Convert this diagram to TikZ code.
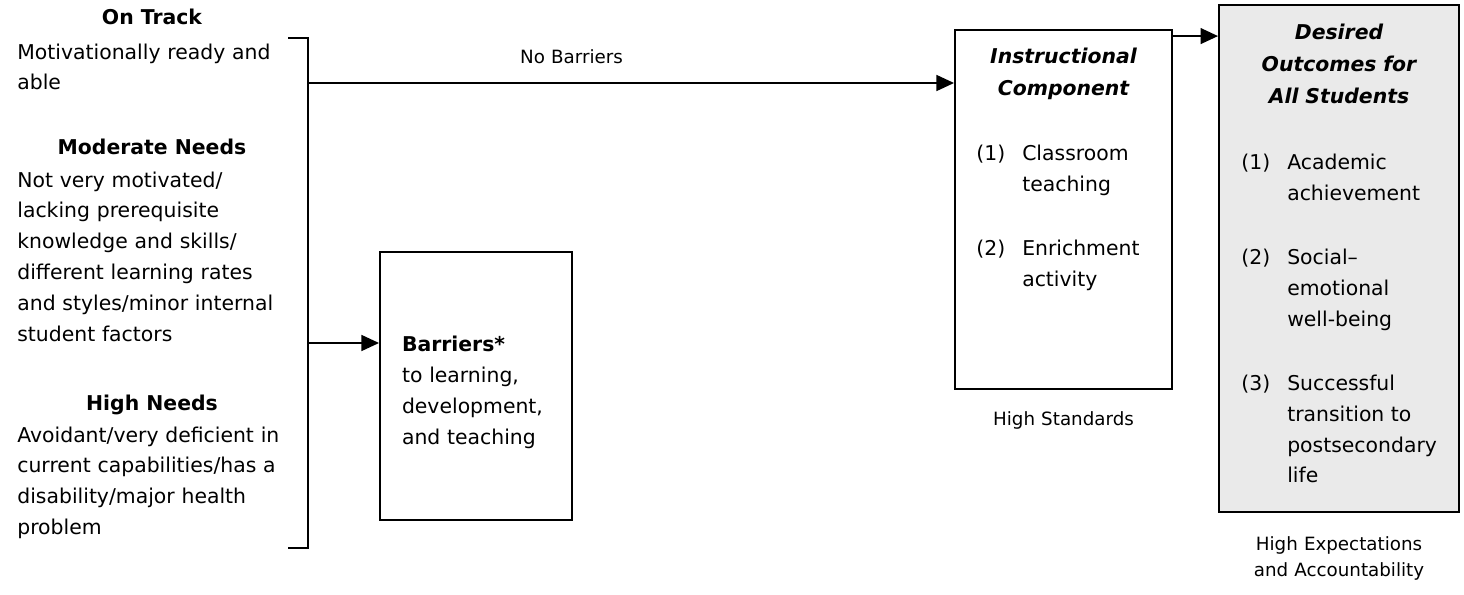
\documentclass[tikz,border=0pt]{standalone}
\usepackage{fontspec}
\setmainfont{DejaVu Sans}[
    ItalicFont={DejaVu Sans Oblique},
    BoldFont={DejaVu Sans Bold},
    BoldItalicFont={DejaVu Sans Bold Oblique}]
\usepackage{tikz}
\usetikzlibrary{
    arrows.meta,
    positioning,
    calc
}
\definecolor{Uline}{RGB}{0, 0, 0}
\definecolor{Ufill}{RGB}{234, 234, 234}
\newcommand{\bodyfont}{\fontsize{11.6}{17.6}\selectfont}
\newcommand{\titlefont}{\fontsize{11.6}{18.1}\selectfont}
\newcommand{\notefont}{\fontsize{10.4}{14.8}\selectfont}
\tikzset{
    ubox/.style={
        rectangle, draw=Uline, line width=1.1pt, fill=white, inner sep=0pt
    },
    ugoal/.style={ubox, fill=Ufill},
    uhead/.style={font=\bodyfont\bfseries, anchor=base, inner sep=0pt},
    utext/.style={
        font=\bodyfont, align=left, text width=6cm, anchor=base west, inner sep=0pt
    },
    utitle/.style={
        font=\titlefont\bfseries\itshape, align=center, text width=4.6cm, inner sep=0pt
    },
    ulist/.style={font=\bodyfont, anchor=base west, inner sep=0pt},
    unote/.style={font=\notefont, align=center, text width=4.8cm, inner sep=0pt},
    uarr/.style={-{Triangle[length=10pt, width=9pt]}, line width=1.1pt, Uline},
    uline/.style={line width=1.1pt, Uline},
}

\begin{document}
\begin{tikzpicture}[x=0.02cm, y=-0.02cm]
    \useasboundingbox (0,0) rectangle (1464,595);

    % ── student groups ───────────────────────────────
    \node [uhead] (trackhd) at (152,25) {On Track};
    \node [utext] (tracktx) at (17,59)
        {Motivationally ready and\\able};

    \node [uhead] (modhd) at (152,154) {Moderate Needs};
    \node [utext] (modtx) at (17,187)
        {Not very motivated/\\lacking prerequisite\\knowledge and skills/\\
         different learning rates\\and styles/minor internal\\student factors};

    \node [uhead] (highhd) at (152,410) {High Needs};
    \node [utext] (hightx) at (17,442)
        {Avoidant/very deficient in\\current capabilities/has a\\
         disability/major health\\problem};

    % ── bracket ──────────────────────────────────────
    \coordinate (brtop) at (288,38);
    \coordinate (brbot) at (288,548);
    \coordinate (brup)  at (308,83);
    \coordinate (brmid) at (308,343);
    \draw [uline] (brtop) -- ++(20,0) |- (brbot);

    % ── barriers ─────────────────────────────────────
    \node [ubox, minimum width=3.84cm, minimum height=5.36cm,
           text width=2.96cm, align=left, font=\bodyfont]
        (barr) at (476,386)
        {\textbf{Barriers*}\rule{0pt}{0.55cm}\\to learning,\\development,\\and teaching};

    % ── instructional component ──────────────────────
    \node [ubox, minimum width=4.34cm, minimum height=7.18cm] (instr) at (1063.5,209.5) {};
    \node [utitle, anchor=base] (instrhd) at ($(instr.north)+(0,34.5)$)
        {Instructional\\Component};
    \node [ulist] (instrls) at ($(instr.north west)+(22,131.5)$)
        {\begin{tabular}[t]{@{}l@{\hspace{0.34cm}}l@{}}
            (1) & Classroom\\
                & teaching\\[0.66cm]
            (2) & Enrichment\\
                & activity
         \end{tabular}};

    % ── desired outcomes ─────────────────────────────
    \node [ugoal, minimum width=4.8cm, minimum height=10.14cm] (goal) at (1339,258.5) {};
    \node [utitle, anchor=base] (goalhd) at ($(goal.north)+(0,35.5)$)
        {Desired\\Outcomes for\\All Students};
    \node [ulist] (goalls) at ($(goal.north west)+(23,165.5)$)
        {\begin{tabular}[t]{@{}l@{\hspace{0.34cm}}l@{}}
            (1) & Academic\\
                & achievement\\[0.66cm]
            (2) & Social--\\
                & emotional\\
                & well-being\\[0.66cm]
            (3) & Successful\\
                & transition to\\
                & postsecondary\\
                & life
         \end{tabular}};

    % ── notes under boxes ────────────────────────────
    \node [unote, below=0.42cm of instr] (instrnt) {High Standards};
    \node [unote, below=0.46cm of goal] (goalnt) {High Expectations\\and Accountability};

    % ── arrows ───────────────────────────────────────
    \draw [uarr] (brup) -- (brup -| instr.west)
        node [unote, pos=0.408, above=0.36cm] (nobarr) {No Barriers};
    \draw [uarr] (brmid) -- (brmid -| barr.west);
    \coordinate (instrout) at ([yshift=-0.14cm]instr.north east);
    \draw [uarr] (instrout) -- (instrout -| goal.west);

\end{tikzpicture}
\end{document}
